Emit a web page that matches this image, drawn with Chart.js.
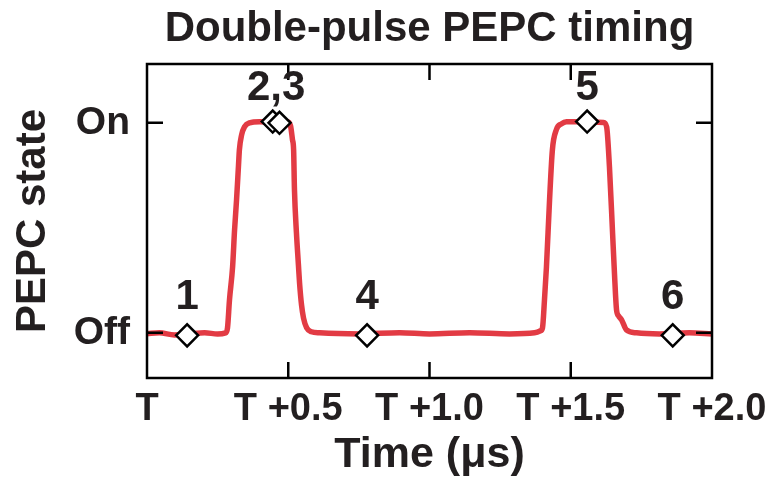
<!DOCTYPE html>
<html>
<head>
<meta charset="utf-8">
<script src="https://cdn.jsdelivr.net/npm/chart.js@4/dist/chart.umd.min.js"></script>
<style>
  html, body { margin: 0; padding: 0; background: #fff; }
  #wrap { width: 777px; height: 485px; }
</style>
</head>
<body>
<div id="wrap"><canvas id="timing"></canvas></div>
<script>
// PEPC trace, time in microseconds after T, state 0 = Off, 1 = On
const curveTime = [0, 0.044, 0.097, 0.150, 0.204, 0.250, 0.278, 0.285, 0.292, 0.303, 0.310, 0.317, 0.324, 0.327, 0.335, 0.345, 0.363, 0.398, 0.451, 0.497,
  0.508, 0.515, 0.519, 0.522, 0.529, 0.536, 0.540, 0.547, 0.554, 0.565, 0.582, 0.611, 0.752, 0.894, 1.0, 1.142, 1.283, 1.372,
  1.393, 1.400, 1.407, 1.414, 1.425, 1.435, 1.449, 1.467, 1.485, 1.549, 1.616, 1.627, 1.637, 1.648, 1.655, 1.662, 1.669, 1.680, 1.697, 1.733, 1.814, 1.920, 2.0];
const curveState = [-0.004, 0, -0.01, -0.005, 0, -0.005, 0, 0.024, 0.157, 0.314, 0.49, 0.633, 0.8, 0.871, 0.943, 0.981, 1.0, 1.005, 1.002, 1.005,
  0.986, 0.919, 0.871, 0.681, 0.476, 0.324, 0.238, 0.133, 0.071, 0.024, 0.005, 0, -0.005, 0, -0.005, 0, -0.005, 0,
  0.01, 0.024, 0.157, 0.314, 0.633, 0.871, 0.967, 0.995, 1.005, 1.005, 1.002, 0.981, 0.79, 0.476, 0.276, 0.11, 0.081, 0.062, 0.014, 0, -0.005, 0, -0.005];

// numbered timing points (diamonds)
const markerTime = [0.142, 0.445, 0.469, 0.779, 1.558, 1.861];
const markerState = [-0.012, 1.006, 1.0, -0.012, 1.006, -0.012];

// labels over the points
const labelText = ['1', '2,3', '4', '5', '6'];
const labelTime = [0.142, 0.457, 0.779, 1.558, 1.861];
const labelState = [-0.012, 1.006, -0.012, 1.006, -0.012];

const xTickValues = [0, 0.5, 1.0, 1.5, 2.0];
const xTickLabels = ['T', 'T +0.5', 'T +1.0', 'T +1.5', 'T +2.0'];
const yTickValues = [0, 1];
const yTickLabels = ['Off', 'On'];

const ink = '#231f20';
const fontFamily = '"Liberation Sans", Arial, Helvetica, sans-serif';

// frame, inward ticks and point labels
const framePlugin = {
  id: 'frame',
  afterDatasetsDraw(chart) {
    const ctx = chart.ctx;
    const a = chart.chartArea;
    const xs = chart.scales.x, ys = chart.scales.y;
    const len = 16;
    ctx.save();
    ctx.strokeStyle = '#000';
    ctx.lineWidth = 2.5;
    ctx.strokeRect(a.left, a.top, a.right - a.left, a.bottom - a.top);
    ctx.beginPath();
    xTickValues.forEach(v => {
      if (v <= xs.min || v >= xs.max) return;
      const px = xs.getPixelForValue(v);
      ctx.moveTo(px, a.bottom); ctx.lineTo(px, a.bottom - len);
      ctx.moveTo(px, a.top); ctx.lineTo(px, a.top + len);
    });
    yTickValues.forEach(v => {
      const py = ys.getPixelForValue(v);
      ctx.moveTo(a.left, py); ctx.lineTo(a.left + len, py);
      ctx.moveTo(a.right, py); ctx.lineTo(a.right - len, py);
    });
    ctx.stroke();

    ctx.fillStyle = ink;
    ctx.font = 'bold 42px ' + fontFamily;
    ctx.textAlign = 'center';
    ctx.textBaseline = 'middle';
    labelText.forEach((t, i) => {
      const dy = labelState[i] > 0.5 ? 33 : 38;
      ctx.fillText(t, xs.getPixelForValue(labelTime[i]), ys.getPixelForValue(labelState[i]) - dy);
    });
    ctx.restore();
  }
};

const ctx = document.getElementById('timing').getContext('2d');
const chart = new Chart(ctx, {
  type: 'scatter',
  data: {
    datasets: [
      {
        label: 'PEPC',
        data: curveTime.map((t, i) => ({ x: t, y: curveState[i] })),
        showLine: true,
        borderColor: '#e23b44',
        borderWidth: 5.5,
        pointRadius: 0,
        cubicInterpolationMode: 'monotone',
        order: 2
      },
      {
        label: 'points',
        data: markerTime.map((t, i) => ({ x: t, y: markerState[i] })),
        showLine: false,
        pointStyle: 'rectRot',
        pointRadius: 11,
        pointBackgroundColor: '#fff',
        pointBorderColor: '#000',
        pointBorderWidth: 2.5,
        order: 1
      }
    ]
  },
  options: {
    responsive: true,
    maintainAspectRatio: false,
    animation: false,
    layout: { padding: { left: 0, right: 65, top: 0, bottom: 0 } },
    plugins: {
      legend: { display: false },
      tooltip: { enabled: false },
      title: {
        display: true,
        text: 'Double-pulse PEPC timing',
        color: ink,
        fullSize: false,
        font: { family: fontFamily, size: 42, weight: 'bold', lineHeight: 1.2 },
        padding: { top: 4, bottom: 9.6 }
      }
    },
    scales: {
      x: {
        type: 'linear',
        min: 0,
        max: 2,
        afterFit(scale) { scale.height = 107; },
        afterBuildTicks(scale) { scale.ticks = xTickValues.map(v => ({ value: v })); },
        grid: { display: false, drawTicks: false },
        border: { display: false },
        ticks: {
          color: ink,
          padding: 9,
          maxRotation: 0,
          font: { family: fontFamily, size: 38, weight: 'bold' },
          callback: v => xTickLabels[xTickValues.indexOf(v)]
        },
        title: {
          display: true,
          text: 'Time (μs)',
          color: ink,
          font: { family: fontFamily, size: 43, weight: 'bold', lineHeight: 1.2 },
          padding: { top: 0, bottom: 4 }
        }
      },
      y: {
        type: 'linear',
        min: -0.215,
        max: 1.28,
        afterFit(scale) { scale.width = 147; },
        afterBuildTicks(scale) { scale.ticks = yTickValues.map(v => ({ value: v })); },
        grid: { display: false, drawTicks: false },
        border: { display: false },
        ticks: {
          color: ink,
          padding: 17,
          font: { family: fontFamily, size: 39, weight: 'bold' },
          callback: v => yTickLabels[yTickValues.indexOf(v)]
        },
        title: {
          display: true,
          text: 'PEPC state',
          color: ink,
          font: { family: fontFamily, size: 42, weight: 'bold', lineHeight: 1.2 },
          padding: { top: 8, bottom: 0 }
        }
      }
    }
  },
  plugins: [framePlugin]
});
</script>
</body>
</html>
